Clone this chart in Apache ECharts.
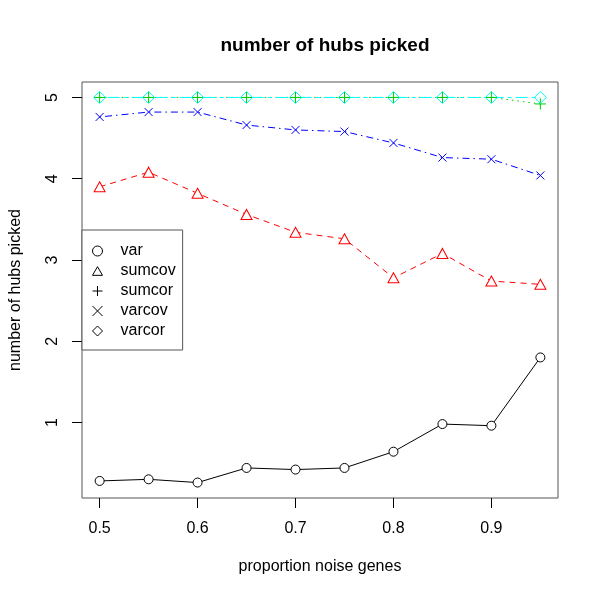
<!DOCTYPE html>
<html>
<head>
<meta charset="utf-8">
<script src="https://cdn.jsdelivr.net/npm/echarts@6/dist/echarts.min.js"></script>
<style>
  html, body { margin: 0; padding: 0; background: #fff; }
  #chart { width: 600px; height: 600px; }
</style>
</head>
<body>
<div id="chart"></div>
<script>
// proportion of noise genes (x)
const noiseProp = [0.5, 0.55, 0.6, 0.65, 0.7, 0.75, 0.8, 0.85, 0.9, 0.95]
// number of hubs picked per method
const varVals = [0.28, 0.30, 0.26, 0.44, 0.42, 0.44, 0.64, 0.98, 0.96, 1.80]
const sumcovVals = [3.90, 4.08, 3.82, 3.56, 3.34, 3.26, 2.78, 3.08, 2.74, 2.70]
const sumcorVals = [5, 5, 5, 5, 5, 5, 5, 5, 5, 4.92]
const varcovVals = [4.76, 4.82, 4.82, 4.66, 4.60, 4.58, 4.44, 4.26, 4.24, 4.04]
const varcorVals = [5, 5, 5, 5, 5, 5, 5, 5, 5, 5]

const xTicks = [0.5, 0.6, 0.7, 0.8, 0.9]
const yTicks = [1, 2, 3, 4, 5]

// R-like pch symbols
const circlePath = 'path://M10,5A5,5,0,1,1,0,5A5,5,0,1,1,10,5Z'
const trianglePath = 'path://M5,0L10,8.66L0,8.66Z'
const plusPath = 'path://M0,5L10,5M5,0L5,10'
const crossPath = 'path://M0,0L10,10M10,0L0,10'
const diamondPath = 'path://M5,0L10,5L5,10L0,5Z'

const font = 'Liberation Sans, Arial, Helvetica, sans-serif'

const pairs = (ys) => noiseProp.map((x, i) => [x, ys[i]])

const mkSeries = (name, data, color, dash, symbol, size, fill) => ({
  type: 'line',
  name: name,
  data: pairs(data),
  symbol: symbol,
  symbolSize: size,
  symbolKeepAspect: false,
  showAllSymbol: true,
  animation: false,
  lineStyle: { color: color, width: 1, type: dash },
  itemStyle: { color: fill, borderColor: color, borderWidth: 1 },
  emphasis: { disabled: true },
})

const legendItem = (name, icon) => ({
  name: name,
  icon: icon,
  itemStyle: { color: 'rgba(0,0,0,0)', borderColor: '#000', borderWidth: 1 },
})

const chart = echarts.init(document.getElementById('chart'))

chart.setOption({
  animation: false,
  backgroundColor: '#fff',
  title: {
    text: 'number of hubs picked',
    left: 320,
    top: 31,
    textAlign: 'center',
    textStyle: { fontFamily: font, fontSize: 19, fontWeight: 'bold', color: '#000' },
  },
  grid: {
    show: true,
    left: 82,
    right: 42,
    top: 82,
    bottom: 102,
    borderColor: '#555',
    borderWidth: 1,
    backgroundColor: 'transparent',
  },
  legend: {
    orient: 'vertical',
    left: 82,
    top: 230,
    padding: [11, 7, 9, 10],
    itemGap: 0,
    itemWidth: 10,
    itemHeight: 10,
    borderColor: '#555',
    borderWidth: 1,
    backgroundColor: '#fff',
    selectedMode: false,
    textStyle: { fontFamily: font, fontSize: 16, color: '#000', lineHeight: 20, padding: [0, 0, 0, 13] },
    data: [
      legendItem('var', circlePath),
      legendItem('sumcov', trianglePath),
      legendItem('sumcor', plusPath),
      legendItem('varcov', crossPath),
      legendItem('varcor', diamondPath),
    ],
  },
  xAxis: {
    type: 'value',
    min: 0.482,
    max: 0.968,
    name: 'proportion noise genes',
    nameLocation: 'middle',
    nameGap: 61,
    nameTextStyle: { fontFamily: font, fontSize: 16, color: '#000' },
    splitLine: { show: false },
    axisLine: { show: false },
    axisTick: { show: true, length: 10, customValues: xTicks, lineStyle: { color: '#000' } },
    axisLabel: {
      fontFamily: font, fontSize: 16, color: '#000', margin: 23,
      customValues: xTicks,
      formatter: (v) => v.toFixed(1),
    },
  },
  yAxis: {
    type: 'value',
    min: 0.07,
    max: 5.19,
    name: 'number of hubs picked',
    nameLocation: 'middle',
    nameGap: 58,
    nameRotate: 90,
    nameTextStyle: { fontFamily: font, fontSize: 16, color: '#000' },
    splitLine: { show: false },
    axisLine: { show: false },
    axisTick: { show: true, length: 10, customValues: yTicks, lineStyle: { color: '#000' } },
    axisLabel: {
      fontFamily: font, fontSize: 16, color: '#000', margin: 21, rotate: 90,
      customValues: yTicks,
    },
  },
  series: [
    mkSeries('var', varVals, '#000000', 'solid', circlePath, 9, '#ffffff'),
    mkSeries('sumcov', sumcovVals, '#ff0000', [6, 5], trianglePath, [11, 10], '#ffffff'),
    mkSeries('sumcor', sumcorVals, '#00cd00', [1.5, 4], plusPath, 11, 'rgba(0,0,0,0)'),
    mkSeries('varcov', varcovVals, '#0000ff', [1.5, 4, 7, 4], crossPath, 8, 'rgba(0,0,0,0)'),
    mkSeries('varcor', varcorVals, '#00ffff', [4, 4, 12, 4], diamondPath, 12, 'rgba(0,0,0,0)'),
  ],
})
</script>
</body>
</html>
